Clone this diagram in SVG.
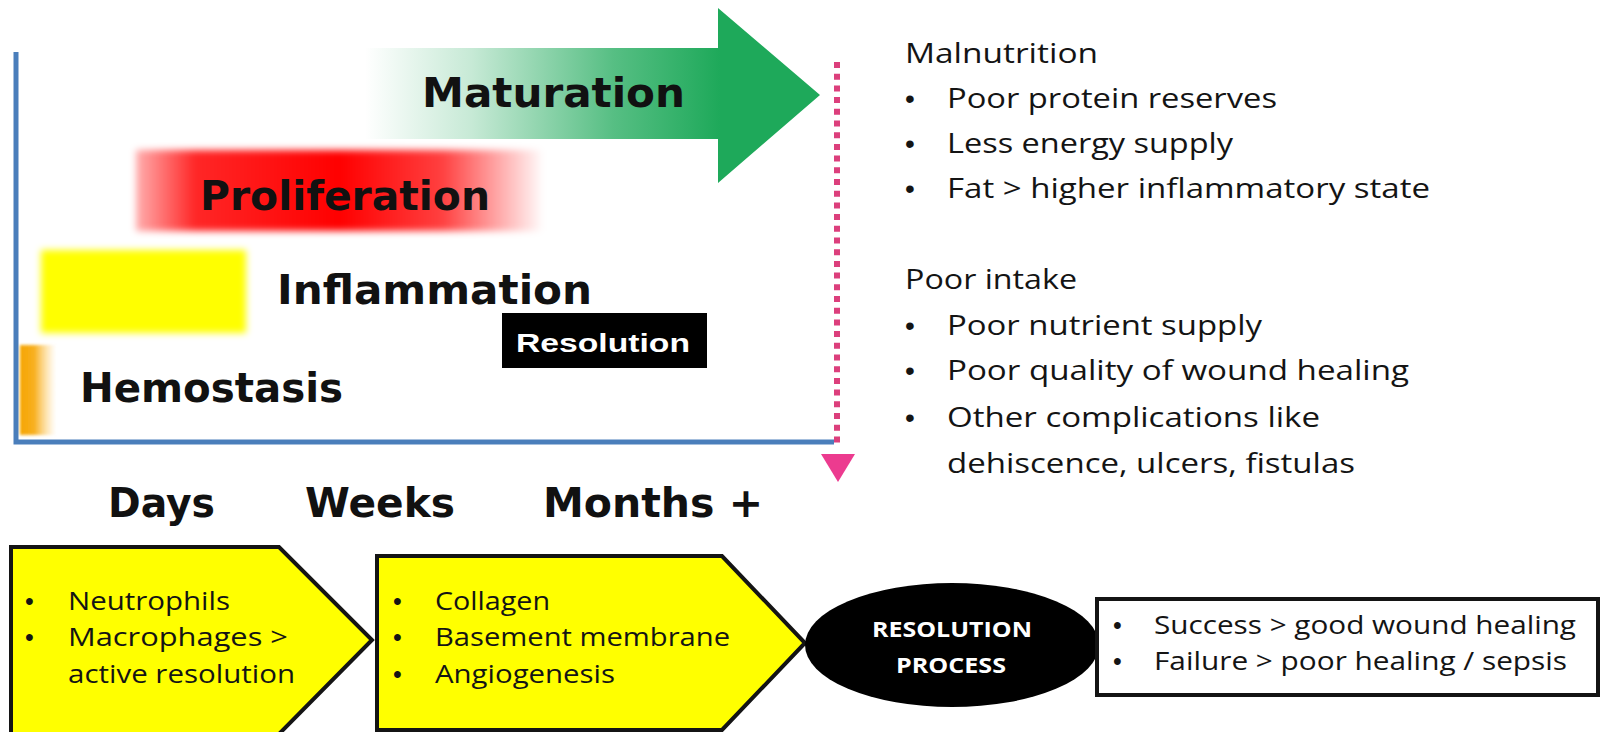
<svg xmlns="http://www.w3.org/2000/svg" width="1602" height="732" viewBox="0 0 1602 732">
  <defs>
    <style>
      .phase { font-family: "DejaVu Sans", Verdana, sans-serif; font-weight: bold; font-size: 40px; fill: #111; }
      .body { font-family: "Open Sans", "Liberation Sans", sans-serif; fill: #141414; }
      .side { font-size: 28px; }
      .box { font-size: 25px; }
      .dot { font-family: "Liberation Sans", Arial, sans-serif; }
      .pent { fill: #ffff00; stroke: #141414; stroke-width: 4; stroke-linejoin: miter; }
      .axis { stroke: #4a7ebb; stroke-width: 5; fill: none; }
    </style>
    <linearGradient id="greenFade" gradientUnits="userSpaceOnUse" x1="365" y1="0" x2="720" y2="0">
      <stop offset="0" stop-color="#1ea95a" stop-opacity="0"/>
      <stop offset="0.3" stop-color="#1ea95a" stop-opacity="0.25"/>
      <stop offset="0.7" stop-color="#1ea95a" stop-opacity="0.75"/>
      <stop offset="1" stop-color="#1ea95a" stop-opacity="1"/>
    </linearGradient>
    <linearGradient id="redFade" gradientUnits="userSpaceOnUse" x1="134" y1="0" x2="545" y2="0">
      <stop offset="0" stop-color="#ff0000" stop-opacity="0.3"/>
      <stop offset="0.15" stop-color="#ff0000" stop-opacity="0.85"/>
      <stop offset="0.5" stop-color="#ff0000" stop-opacity="1"/>
      <stop offset="0.75" stop-color="#ff0000" stop-opacity="0.75"/>
      <stop offset="1" stop-color="#ff0000" stop-opacity="0"/>
    </linearGradient>
    <linearGradient id="orangeFade" gradientUnits="userSpaceOnUse" x1="20" y1="0" x2="56" y2="0">
      <stop offset="0" stop-color="#f6a400"/>
      <stop offset="0.4" stop-color="#f8b020"/>
      <stop offset="1" stop-color="#ffd070" stop-opacity="0"/>
    </linearGradient>
    <filter id="soft" x="-10%" y="-20%" width="120%" height="140%">
      <feGaussianBlur stdDeviation="3.5"/>
    </filter>
    <filter id="softer" x="-10%" y="-20%" width="120%" height="140%">
      <feGaussianBlur stdDeviation="1.5"/>
    </filter>
  </defs>

  <rect width="1602" height="732" fill="#ffffff"/>

  <!-- phase bars -->
  <g id="maturation">
    <path d="M365,48 L718,48 L718,8 L820,95 L718,183 L718,139 L365,139 Z" fill="url(#greenFade)"/>
    <text class="phase" x="422" y="107" textLength="263" lengthAdjust="spacingAndGlyphs">Maturation</text>
  </g>
  <g id="proliferation">
    <rect x="136" y="150" width="405" height="81" fill="url(#redFade)" filter="url(#soft)"/>
    <text class="phase" x="200" y="210" textLength="290" lengthAdjust="spacingAndGlyphs">Proliferation</text>
  </g>
  <g id="inflammation">
    <rect x="41" y="250" width="205" height="83" fill="#ffff00" filter="url(#soft)"/>
    <text class="phase" x="277" y="304" textLength="315" lengthAdjust="spacingAndGlyphs">Inflammation</text>
  </g>
  <g id="resolution">
    <rect x="502" y="313" width="205" height="55" fill="#000"/>
    <text x="516" y="352" font-family="'Liberation Sans', Arial, sans-serif" font-weight="bold" font-size="26.5" fill="#fff" textLength="174" lengthAdjust="spacingAndGlyphs">Resolution</text>
  </g>
  <g id="hemostasis">
    <rect x="20" y="345" width="36" height="90" fill="url(#orangeFade)" filter="url(#softer)"/>
    <text class="phase" x="80" y="402" textLength="263" lengthAdjust="spacingAndGlyphs">Hemostasis</text>
  </g>

  <!-- axes and time marker -->
  <g id="connectors">
    <path class="axis" d="M16,52 L16,442 L834,442"/>
    <line x1="837" y1="62" x2="837" y2="447" stroke="#dc3f7c" stroke-width="6" stroke-dasharray="6 5.7"/>
    <polygon points="821,454 855,454 838,482" fill="#ec3b8f"/>
  </g>

  <!-- time scale -->
  <g id="timescale">
    <text class="phase" x="108" y="517" textLength="107" lengthAdjust="spacingAndGlyphs">Days</text>
    <text class="phase" x="305" y="517" textLength="150" lengthAdjust="spacingAndGlyphs">Weeks</text>
    <text class="phase" x="543" y="517" textLength="220" lengthAdjust="spacingAndGlyphs">Months +</text>
  </g>

  <!-- risk factors -->
  <g id="malnutrition" class="body side">
    <text x="905" y="63" textLength="193" lengthAdjust="spacingAndGlyphs">Malnutrition</text>
    <text class="dot" x="905" y="108">•</text>
    <text x="947" y="108" textLength="330" lengthAdjust="spacingAndGlyphs">Poor protein reserves</text>
    <text class="dot" x="905" y="153">•</text>
    <text x="947" y="153" textLength="286" lengthAdjust="spacingAndGlyphs">Less energy supply</text>
    <text class="dot" x="905" y="198">•</text>
    <text x="947" y="198" textLength="483" lengthAdjust="spacingAndGlyphs">Fat &gt; higher inflammatory state</text>
  </g>
  <g id="poor-intake" class="body side">
    <text x="905" y="289" textLength="172" lengthAdjust="spacingAndGlyphs">Poor intake</text>
    <text class="dot" x="905" y="335">•</text>
    <text x="947" y="335" textLength="315" lengthAdjust="spacingAndGlyphs">Poor nutrient supply</text>
    <text class="dot" x="905" y="380">•</text>
    <text x="947" y="380" textLength="462" lengthAdjust="spacingAndGlyphs">Poor quality of wound healing</text>
    <text class="dot" x="905" y="427">•</text>
    <text x="947" y="427" textLength="373" lengthAdjust="spacingAndGlyphs">Other complications like</text>
    <text x="947" y="473" textLength="408" lengthAdjust="spacingAndGlyphs">dehiscence, ulcers, fistulas</text>
  </g>

  <!-- process chain -->
  <g id="cells">
    <polygon class="pent" points="11,547 279,547 372,640 279,734 11,734"/>
    <g class="body box">
      <text class="dot" x="25" y="610">•</text>
      <text x="68" y="610" textLength="162" lengthAdjust="spacingAndGlyphs">Neutrophils</text>
      <text class="dot" x="25" y="646">•</text>
      <text x="68" y="646" textLength="220" lengthAdjust="spacingAndGlyphs">Macrophages &gt;</text>
      <text x="68" y="683" textLength="227" lengthAdjust="spacingAndGlyphs">active resolution</text>
    </g>
  </g>
  <g id="matrix">
    <polygon class="pent" points="377,556 722,556 805,643 722,730 377,730"/>
    <g class="body box">
      <text class="dot" x="393" y="610">•</text>
      <text x="435" y="610" textLength="115" lengthAdjust="spacingAndGlyphs">Collagen</text>
      <text class="dot" x="393" y="646">•</text>
      <text x="435" y="646" textLength="295" lengthAdjust="spacingAndGlyphs">Basement membrane</text>
      <text class="dot" x="393" y="683">•</text>
      <text x="435" y="683" textLength="180" lengthAdjust="spacingAndGlyphs">Angiogenesis</text>
    </g>
  </g>
  <g id="resolution-process">
    <ellipse cx="952" cy="645" rx="147" ry="62" fill="#000"/>
    <g font-family="'Open Sans', 'Liberation Sans', sans-serif" font-weight="bold" font-size="22" fill="#fff" text-anchor="middle">
      <text x="952" y="637" textLength="160" lengthAdjust="spacingAndGlyphs">RESOLUTION</text>
      <text x="951" y="673" textLength="110" lengthAdjust="spacingAndGlyphs">PROCESS</text>
    </g>
  </g>
  <g id="outcome">
    <rect x="1097" y="599" width="501" height="96" fill="#fff" stroke="#141414" stroke-width="4"/>
    <g class="body box">
      <text class="dot" x="1113" y="634">•</text>
      <text x="1154" y="634" textLength="422" lengthAdjust="spacingAndGlyphs">Success &gt; good wound healing</text>
      <text class="dot" x="1113" y="670">•</text>
      <text x="1154" y="670" textLength="413" lengthAdjust="spacingAndGlyphs">Failure &gt; poor healing / sepsis</text>
    </g>
  </g>
</svg>
